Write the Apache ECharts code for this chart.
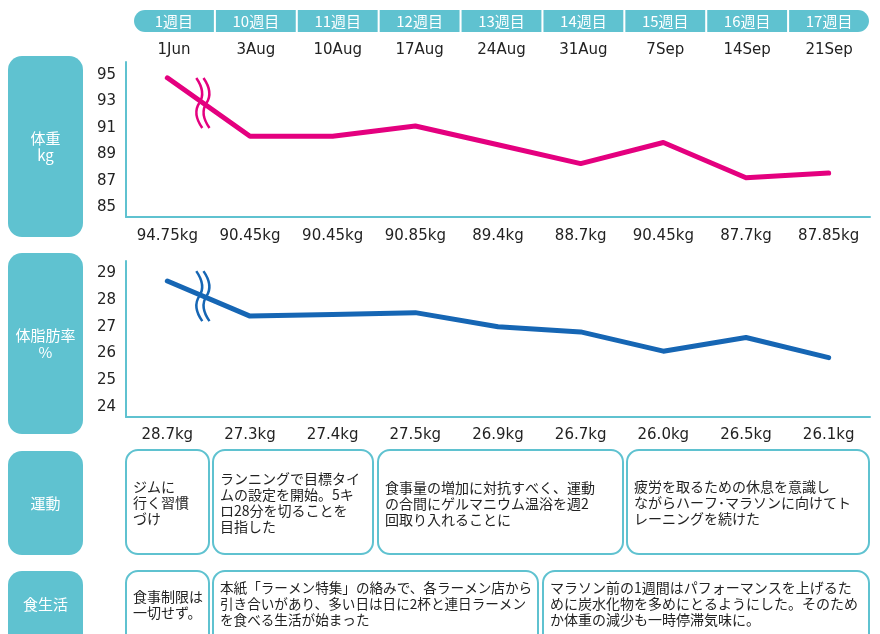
<!DOCTYPE html>
<html>
<head>
<meta charset="utf-8">
<script src="https://cdn.jsdelivr.net/npm/echarts@6/dist/echarts.min.js"></script>
<style>html,body{margin:0;padding:0;background:#fff;}#main{width:880px;height:634px;}</style>
</head>
<body>
<div id="main"></div>
<script>
const weeks = ['1週目','10週目','11週目','12週目','13週目','14週目','15週目','16週目','17週目'];
const dates = ['1Jun','3Aug','10Aug','17Aug','24Aug','31Aug','7Sep','14Sep','21Sep'];
const weightValues = [94.8, 90.37, 90.37, 91.15, 89.73, 88.3, 89.9, 87.23, 87.58];
const weightLabels = ['94.75kg','90.45kg','90.45kg','90.85kg','89.4kg','88.7kg','90.45kg','87.7kg','87.85kg'];
const fatValues = [28.71, 27.4, 27.46, 27.53, 27.0, 26.81, 26.09, 26.6, 25.85];
const fatLabels = ['28.7kg','27.3kg','27.4kg','27.5kg','26.9kg','26.7kg','26.0kg','26.5kg','26.1kg'];
const weightTicks = [85, 87, 89, 91, 93, 95];
const fatTicks = [24, 25, 26, 27, 28, 29];
const panelLabels = ['体重\nkg', '体脂肪率\n%', '運動', '食生活'];
const exerciseNotes = [
  'ジムに\n行く習慣\nづけ',
  'ランニングで目標タイ\nムの設定を開始。5キ\nロ28分を切ることを\n目指した',
  '食事量の増加に対抗すべく、運動\nの合間にゲルマニウム温浴を週2\n回取り入れることに',
  '疲労を取るための休息を意識し\nながらハーフ･マラソンに向けてト\nレーニングを続けた'
];
const foodNotes = [
  '食事制限は\n一切せず。',
  '本紙「ラーメン特集」の絡みで、各ラーメン店から\n引き合いがあり、多い日は日に2杯と連日ラーメン\nを食べる生活が始まった',
  'マラソン前の1週間はパフォーマンスを上げるた\nめに炭水化物を多めにとるようにした。そのため\nか体重の減少も一時停滞気味に。'
];

const CYAN = '#5fc2d0';
const PINK = '#e4007f';
const BLUE = '#1666b4';
const NUM = '"DejaVu Sans", "Noto Sans CJK JP", sans-serif';
const CJK = '"Noto Sans CJK JP", sans-serif';

const chart = echarts.init(document.getElementById('main'));

const numLabel = {fontSize: 15, color: '#222', fontFamily: NUM};

chart.setOption({
  animation: false,
  grid: [
    {left: 133, right: 10, top: 10, height: 22},
    {left: 126, right: 10, top: 62, height: 155},
    {left: 126, right: 10, top: 261, height: 156}
  ],
  xAxis: [
    {gridIndex: 0, type: 'category', data: dates, axisLine: {show: false}, axisTick: {show: false},
      axisLabel: Object.assign({interval: 0, margin: 11}, numLabel)},
    {gridIndex: 1, type: 'category', data: weightLabels, axisLine: {lineStyle: {color: CYAN, width: 2}}, axisTick: {show: false},
      axisLabel: Object.assign({interval: 0, margin: 12}, numLabel)},
    {gridIndex: 2, type: 'category', data: fatLabels, axisLine: {lineStyle: {color: CYAN, width: 2}}, axisTick: {show: false},
      axisLabel: Object.assign({interval: 0, margin: 11}, numLabel)}
  ],
  yAxis: [
    {gridIndex: 0, type: 'value', min: 0, max: 1, show: false},
    {gridIndex: 1, type: 'value', min: 84.25, max: 96, axisLine: {show: true, lineStyle: {color: CYAN, width: 2}},
      axisTick: {show: false}, splitLine: {show: false},
      axisLabel: Object.assign({customValues: weightTicks, margin: 10}, numLabel)},
    {gridIndex: 2, type: 'value', min: 23.63, max: 29.46, axisLine: {show: true, lineStyle: {color: CYAN, width: 2}},
      axisTick: {show: false}, splitLine: {show: false},
      axisLabel: Object.assign({customValues: fatTicks, margin: 10}, numLabel)}
  ],
  series: [
    {type: 'bar', xAxisIndex: 0, yAxisIndex: 0, silent: true, barCategoryGap: '2.5%',
      data: weeks.map((w, i) => ({value: 1, itemStyle: {borderRadius: i === 0 ? [11, 0, 0, 11] : (i === weeks.length - 1 ? [0, 11, 11, 0] : 0)}})),
      itemStyle: {color: CYAN},
      label: {show: true, position: 'inside', formatter: p => weeks[p.dataIndex], color: '#fff', fontSize: 15, fontFamily: CJK}},
    {type: 'line', xAxisIndex: 1, yAxisIndex: 1, data: weightValues, symbol: 'none',
      lineStyle: {color: PINK, width: 5, cap: 'round', join: 'round'}},
    {type: 'line', xAxisIndex: 2, yAxisIndex: 2, data: fatValues, symbol: 'none',
      lineStyle: {color: BLUE, width: 5, cap: 'round', join: 'round'}}
  ]
});

const graphics = [];
// left panels
const panels = [[56, 181], [253, 181], [451, 104], [571, 100]];
const panelTextY = [146.5, 343.5, 503, 604];
panels.forEach((p, i) => {
  graphics.push({type: 'rect', shape: {x: 8, y: p[0], width: 75, height: p[1], r: 14}, style: {fill: CYAN}, silent: true});
  graphics.push({type: 'text', x: 45.5, y: panelTextY[i], silent: true,
    style: {text: panelLabels[i], fill: '#fff', fontSize: 15, fontFamily: CJK, lineHeight: 17, align: 'center', verticalAlign: 'middle'}});
});
// note boxes
const exBoxes = [[126, 209], [213, 373], [378, 623], [627, 869]];
const exTextTop = [479, 471, 480, 479];
exBoxes.forEach((b, i) => {
  graphics.push({type: 'rect', shape: {x: b[0], y: 450, width: b[1] - b[0], height: 104, r: 12},
    style: {fill: '#fff', stroke: CYAN, lineWidth: 2}, silent: true});
  graphics.push({type: 'text', x: b[0] + 7, y: exTextTop[i], silent: true,
    style: {text: exerciseNotes[i], fill: '#222', fontSize: 14, fontFamily: CJK, lineHeight: 16, align: 'left', verticalAlign: 'top'}});
});
const foodBoxes = [[126, 209], [213, 538], [543, 869]];
const foodTextTop = [589, 580, 580];
const foodFont = [14, 13.6, 14];
foodBoxes.forEach((b, i) => {
  graphics.push({type: 'rect', shape: {x: b[0], y: 571, width: b[1] - b[0], height: 104, r: 12},
    style: {fill: '#fff', stroke: CYAN, lineWidth: 2}, silent: true});
  graphics.push({type: 'text', x: b[0] + 7, y: foodTextTop[i], silent: true,
    style: {text: foodNotes[i], fill: '#222', fontSize: foodFont[i], fontFamily: CJK, lineHeight: 16, align: 'left', verticalAlign: 'top'}});
});
// break marks between the first two points of each line
function waveParts(dx, stroke, width) {
  return [
    {type: 'bezierCurve', x: dx, shape: {x1: -3, y1: -25, cpx1: 4, cpy1: -15, cpx2: 4, cpy2: -6, x2: 0, y2: 0},
      style: {fill: null, stroke: stroke, lineWidth: width}},
    {type: 'bezierCurve', x: dx, shape: {x1: 0, y1: 0, cpx1: -4, cpy1: 6, cpx2: -4, cpy2: 15, x2: 3, y2: 25},
      style: {fill: null, stroke: stroke, lineWidth: width}}
  ];
}
function breakMark(seriesIndex, values, color) {
  const p0 = chart.convertToPixel({seriesIndex: seriesIndex}, [0, values[0]]);
  const p1 = chart.convertToPixel({seriesIndex: seriesIndex}, [1, values[1]]);
  const t = 0.43;
  const cx = p0[0] + (p1[0] - p0[0]) * t;
  const cy = p0[1] + (p1[1] - p0[1]) * t;
  graphics.push({type: 'group', x: cx, y: cy, z: 100, silent: true,
    children: [].concat(waveParts(0, '#fff', 8), waveParts(-3.6, color, 2.5), waveParts(3.6, color, 2.5))});
}
breakMark(1, weightValues, PINK);
breakMark(2, fatValues, BLUE);

chart.setOption({graphic: graphics});
</script>
</body>
</html>
